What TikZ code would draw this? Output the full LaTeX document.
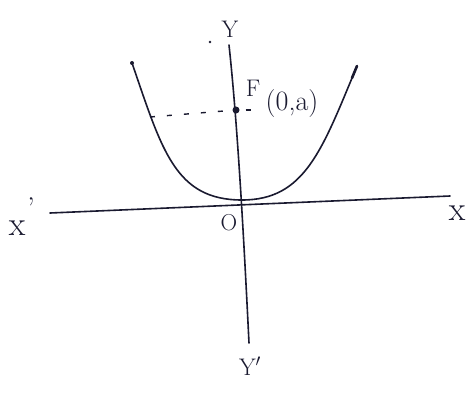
\documentclass[tikz,border=0pt]{standalone}
\usepackage{fontspec}
\begin{document}
\begin{tikzpicture}[x=1pt,y=-1pt,
  ink/.style={draw=inkc,line width=1.6pt,line cap=round},
  lbl/.style={text=inkc,inner sep=0pt}]
\definecolor{inkc}{HTML}{1A1A30}
\useasboundingbox (0,0) rectangle (469,394);
\fill[white] (0,0) rectangle (469,394);
% axes
\coordinate (xl) at (50,213);
\coordinate (xr) at (450,196);
\coordinate (yt) at (229,45);
\coordinate (yb) at (249,343);
\draw[ink] (xl) -- (xr);
\draw[ink] (yt) .. controls (236,110) and (242,200) .. (yb);
% parabola
\coordinate (pl) at (132,63);
\coordinate (pv) at (242,200);
\coordinate (pr) at (357,66);
\draw[ink] (pl) .. controls (162,150) and (175,200) .. (pv) .. controls (305,200) and (322,150) .. (pr);
\fill[inkc] (pl) circle (2pt);
\draw[inkc,line width=2.6pt,line cap=round] (352,78) -- (pr);
% focus
\coordinate (fd) at (150,117);
\node[circle,fill=inkc,inner sep=0pt,minimum size=7pt] (F) at (236,110) {};
\draw[inkc,line width=1.4pt,dash pattern=on 5pt off 12pt] (fd) -- (F);
\draw[inkc,line width=1.4pt] (F.east) ++(6,0) -- ++(5,0);
% labels
\node[lbl,font=\fontsize{24}{28}\selectfont] (Fl) at (253,88) {F};
\node[lbl,font=\fontsize{28}{32}\selectfont] (Fc) at (292,104) {(0,a)};
\node[lbl,font=\fontsize{24}{28}\selectfont] (Y) at (230,29) {Y};
\node[lbl,font=\fontsize{24}{28}\selectfont] (Yp) at (250,366) {Y$'$};
\node[lbl,font=\fontsize{34}{38}\selectfont] (X) at (457,213) {x};
\node[lbl,font=\fontsize{34}{38}\selectfont] (Xp) at (17,228) {x};
\node[lbl,font=\fontsize{30}{34}\selectfont] (Xpm) at (31,208) {'};
\node[lbl,font=\fontsize{23}{27}\selectfont] (O) at (229,223) {O};
\fill[inkc] (210,42) circle (1.3pt);
\end{tikzpicture}
\end{document}
